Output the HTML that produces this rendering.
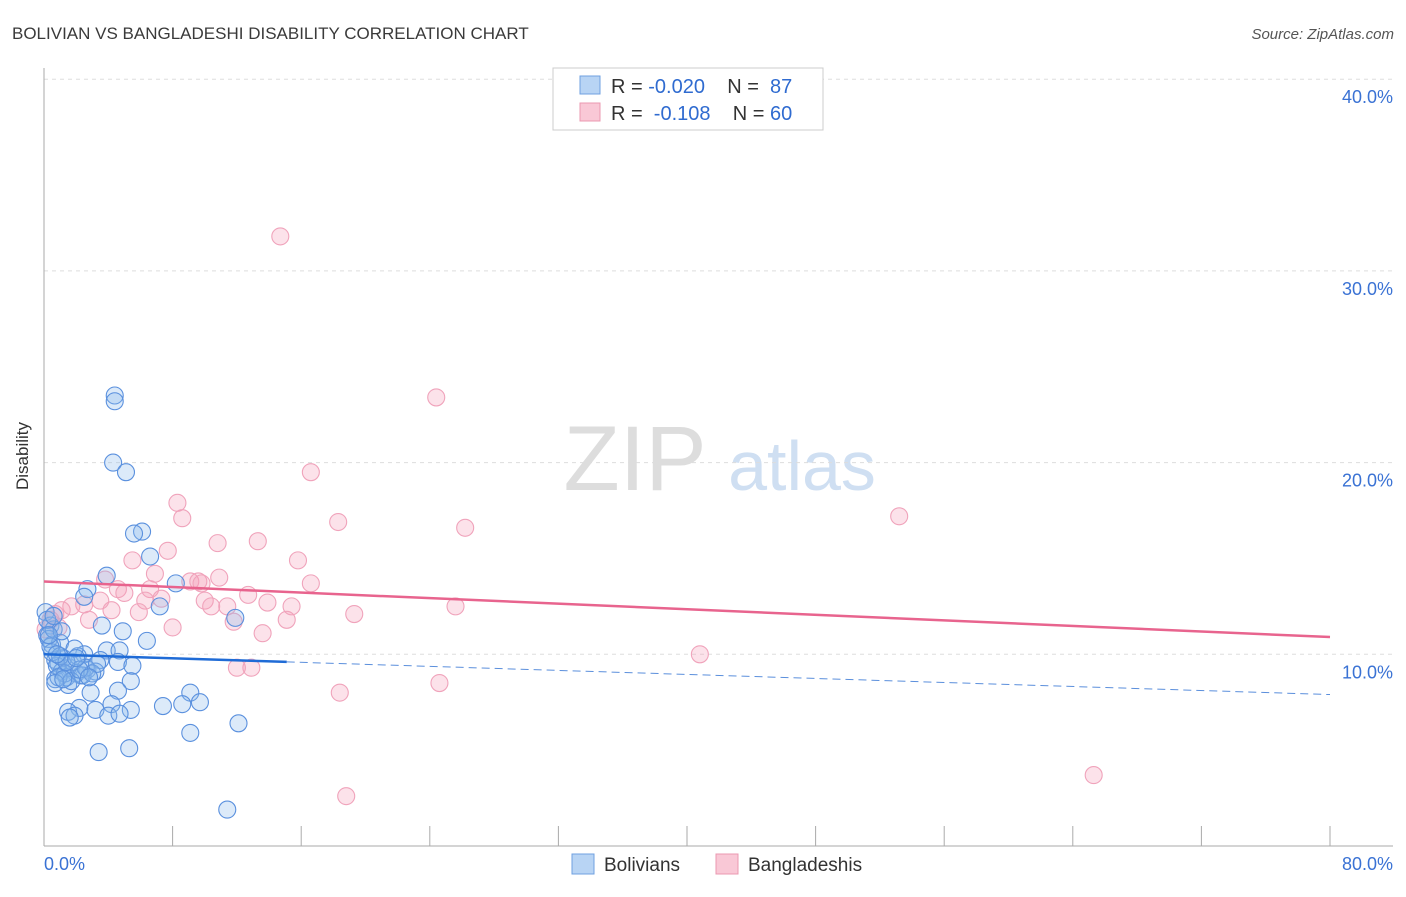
<!DOCTYPE html>
<html><head><meta charset="utf-8"><style>
body{margin:0;background:#fff;font-family:"Liberation Sans",sans-serif}
svg text{font-family:"Liberation Sans",sans-serif}
</style></head><body>
<svg width="1406" height="892">
<text x="12" y="39" font-size="17" fill="#3a3a3a">BOLIVIAN VS BANGLADESHI DISABILITY CORRELATION CHART</text>
<text x="1394" y="39" font-size="15" fill="#555" font-style="italic" text-anchor="end">Source: ZipAtlas.com</text>
<g><text x="635" y="490" font-size="92" fill="#ddd" font-family="Liberation Serif" text-anchor="middle">ZIP</text><text x="802" y="490" font-size="70" fill="#cfdff2" text-anchor="middle">atlas</text></g>
<g id="grid"></g><g id="axes"></g><g id="pts"></g><g id="lines"></g>
<text x="28" y="456" font-size="17" fill="#333" text-anchor="middle" transform="rotate(-90 28 456)">Disability</text>
<g>
<rect x="553" y="68" width="270" height="62" fill="#fff" stroke="#ccc"/>
<rect x="580" y="76" width="20" height="18" fill="#b8d4f4" stroke="#6fa0e0"/>
<rect x="580" y="103" width="20" height="18" fill="#f9c8d6" stroke="#eb98b0"/>
<text x="611" y="93" font-size="20" fill="#333" xml:space="preserve">R = <tspan fill="#2f6bd0">-0.020</tspan>    N =  <tspan fill="#2f6bd0">87</tspan></text>
<text x="611" y="120" font-size="20" fill="#333" xml:space="preserve">R =  <tspan fill="#2f6bd0">-0.108</tspan>    N = <tspan fill="#2f6bd0">60</tspan></text>
</g>
<g>
<rect x="572" y="854" width="22" height="20" fill="#b8d4f4" stroke="#6fa0e0"/>
<text x="604" y="871" font-size="19" fill="#333">Bolivians</text>
<rect x="716" y="854" width="22" height="20" fill="#f9c8d6" stroke="#eb98b0"/>
<text x="748" y="871" font-size="19" fill="#333">Bangladeshis</text>
</g>
</svg>
<script>
const yTicks=[10,20,30,40];
const xTickLabels=["0.0%","80.0%"];
const blueX=[4.4,4.4,4.3,5.1,6.1,5.6,6.6,8.2,3.9,2.7,2.5,7.2,11.9,3.6,4.9,6.4,0.1,0.4,0.2,0.5,0.7,0.9,3.9,4.7,2.5,3.5,4.6,5.5,1.6,2.7,1.1,2.0,3.2,1.4,2.3,0.7,1.5,5.4,4.6,2.9,9.1,9.7,8.6,7.4,5.4,2.2,3.2,4.2,1.5,1.9,1.6,4.0,4.7,12.1,9.1,3.4,5.3,11.4,0.3,0.6,1.0,1.2,0.8,1.8,2.1,2.4,1.3,0.5,0.9,1.7,2.6,3.0,1.1,0.2,0.6,1.9,2.2,0.4,3.3,1.0,1.4,2.8,0.3,0.7,1.2,2.0,0.8];
const blueY=[23.5,23.2,20.0,19.5,16.4,16.3,15.1,13.7,14.1,13.4,13.0,12.5,11.9,11.5,11.2,10.7,12.2,11.5,11.0,10.5,9.7,9.5,10.2,10.2,10.0,9.7,9.6,9.4,9.3,9.2,9.1,9.0,9.1,8.8,8.9,8.7,8.4,8.6,8.1,8.0,8.0,7.5,7.4,7.3,7.1,7.2,7.1,7.4,7.0,6.8,6.7,6.8,6.9,6.4,5.9,4.9,5.1,1.9,10.8,11.3,10.6,9.8,9.4,9.6,9.9,8.9,9.0,10.1,8.8,8.6,9.3,9.0,11.2,11.8,12.0,10.3,9.2,10.4,9.5,9.9,9.6,8.8,11.0,8.5,8.7,9.8,10.0];
const pinkX=[14.7,24.4,16.6,53.2,26.2,18.3,8.3,8.6,10.8,13.3,15.8,7.7,5.5,6.9,10.9,9.1,9.6,9.8,16.6,3.8,4.6,5.0,6.6,7.3,12.7,6.3,10.0,10.4,13.9,15.4,11.4,25.6,15.1,19.3,11.8,5.9,3.5,2.5,1.7,1.1,0.7,2.8,8.0,13.6,4.2,40.8,12.0,12.9,24.6,18.4,18.8,65.3,0.4,0.9,0.1];
const pinkY=[31.8,23.4,19.5,17.2,16.6,16.9,17.9,17.1,15.8,15.9,14.9,15.4,14.9,14.2,14.0,13.8,13.8,13.7,13.7,13.9,13.4,13.2,13.4,12.9,13.1,12.8,12.8,12.5,12.7,12.5,12.5,12.5,11.8,12.1,11.7,12.2,12.8,12.6,12.5,12.3,12.1,11.8,11.4,11.1,12.3,10.0,9.3,9.3,8.5,8.0,2.6,3.7,11.8,11.4,11.3];
const pinkTrend=[13.8,10.9];
const blueTrend=[10.0,7.9];
const NS="http://www.w3.org/2000/svg";
const X=v=>44+v/80*1286, Y=v=>846-v/10*191.7;
function mk(t,a,p){const e=document.createElementNS(NS,t);for(const k in a)e.setAttribute(k,a[k]);document.getElementById(p).appendChild(e);return e;}
yTicks.forEach(t=>{
 const g=mk('line',{x1:44,x2:1393,y1:Y(t),y2:Y(t),stroke:'#ddd','stroke-dasharray':'4,4'},'grid');
 
 
 const l=mk('text',{x:1393,y:Y(t)+24,'font-size':18,fill:'#3a72d4','text-anchor':'end'},'grid');
 l.textContent=t.toFixed(1)+'%';
 
 
});
const ax=mk('line',{x1:44,x2:44,y1:68,y2:846,stroke:'#aaa'},'axes');


const bx=mk('line',{x1:44,x2:1393,y1:846,y2:846,stroke:'#aaa'},'axes');


for(let i=0;i<=10;i++){const t=mk('line',{x1:X(i*8),x2:X(i*8),y1:826,y2:846,stroke:'#aaa'},'axes');
 
 }
const xl0=mk('text',{x:44,y:870,'font-size':18,fill:'#3a72d4'},'axes');xl0.textContent=xTickLabels[0];


const xl1=mk('text',{x:1393,y:870,'font-size':18,fill:'#3a72d4','text-anchor':'end'},'axes');xl1.textContent=xTickLabels[1];


pinkX.forEach((x,i)=>{const c=mk('circle',{cx:X(x),cy:Y(pinkY[i]),r:8.5,fill:'rgba(244,160,186,0.3)',stroke:'#f0a3bb','stroke-width':1.1},'pts');
 
 });
blueX.forEach((x,i)=>{const c=mk('circle',{cx:X(x),cy:Y(blueY[i]),r:8.5,fill:'rgba(140,184,236,0.3)',stroke:'#5a90de','stroke-width':1.1},'pts');
 
 });
const pl=mk('line',{x1:X(0),y1:Y(pinkTrend[0]),x2:X(80),y2:Y(pinkTrend[1]),stroke:'#e8648e','stroke-width':2.5},'lines');


const bAt=v=>blueTrend[0]+(blueTrend[1]-blueTrend[0])*v/80;
const bl=mk('line',{x1:X(0),y1:Y(bAt(0)),x2:X(15.1),y2:Y(bAt(15.1)),stroke:'#1f6bd6','stroke-width':2.5},'lines');


const bd=mk('line',{x1:X(15.1),y1:Y(bAt(15.1)),x2:X(80),y2:Y(bAt(80)),stroke:'#5b8fdc','stroke-width':1,'stroke-dasharray':'8,5'},'lines');


</script>
</body></html>
